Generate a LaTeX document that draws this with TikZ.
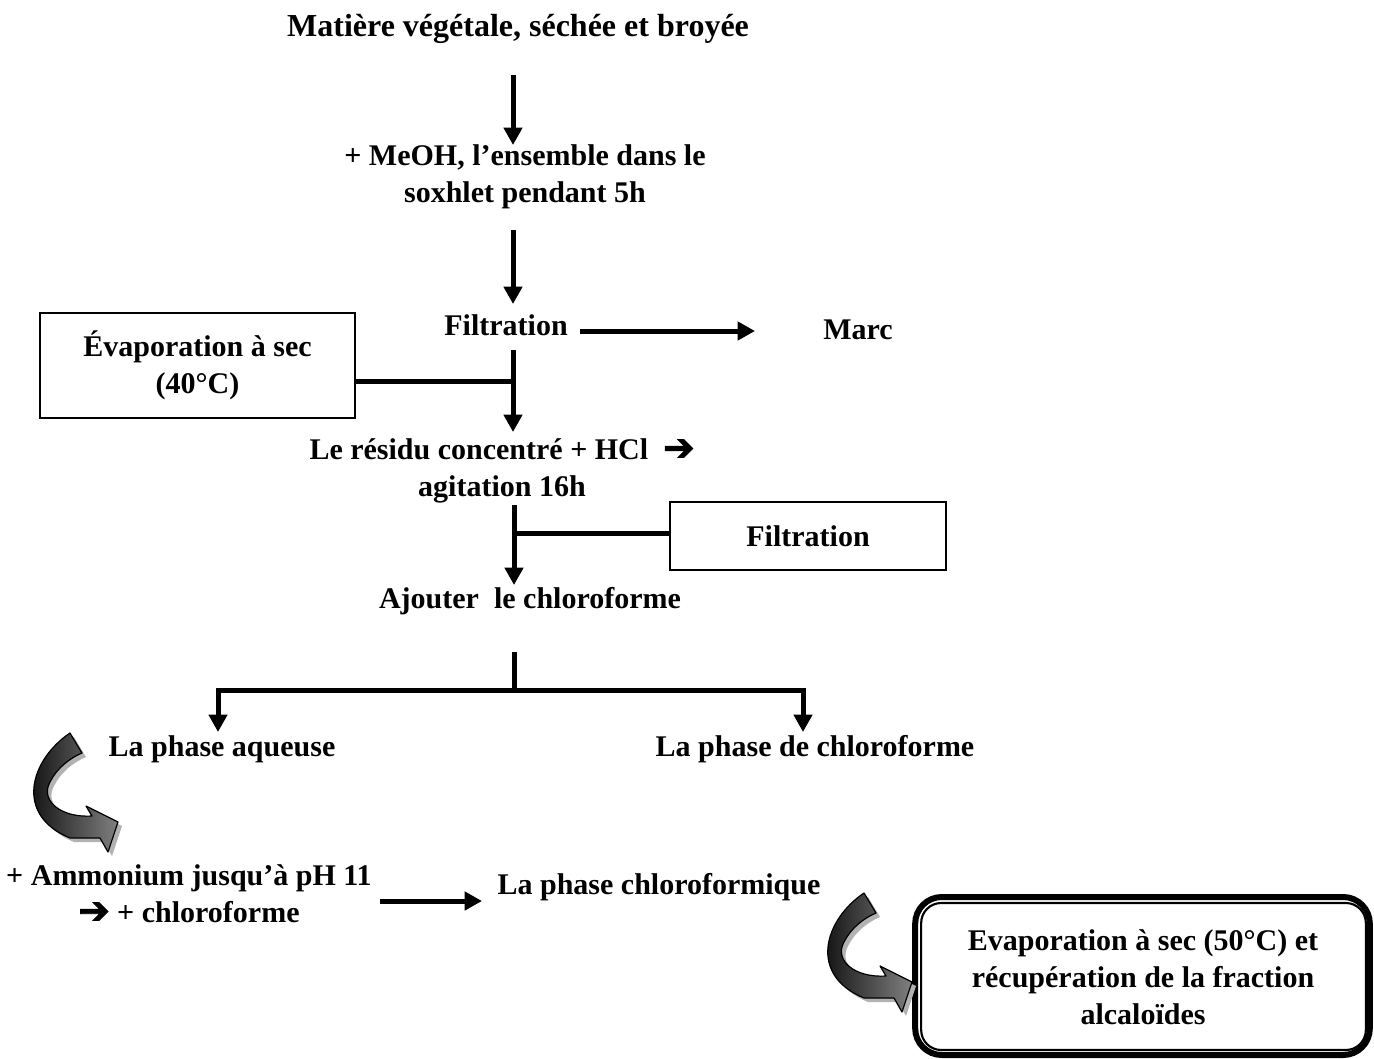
\documentclass[tikz,border=0pt]{standalone}
\usepackage{fontspec}
\setmainfont{Liberation Serif}
\newfontfamily\heavyarrow[FakeBold=2.5]{DejaVu Sans}
\usetikzlibrary{arrows.meta}
\tikzset{
  curvy/.pic={
    \fill[gray!60] (42,4) .. controls (2,31) and (-14,86) .. (42,109) -- (72,109) -- (80,123) -- (90,93) -- (58,77) -- (64,87) .. controls (32,89) and (12,71) .. (22,53) .. controls (29,39) and (42,29) .. (54,24) -- cycle;
    \shade[shading angle=60, left color=black, right color=black!50, draw=black, line width=0.9pt, line join=round]
      (38,0) .. controls (-2,27) and (-18,82) .. (38,105) -- (68,105) -- (76,119) -- (86,89) -- (54,73) -- (60,83) .. controls (28,85) and (8,67) .. (18,49) .. controls (25,35) and (38,25) .. (50,20) -- cycle;
  }
}
\newcommand{\harrow}{\raisebox{-0.5pt}{\heavyarrow\mdseries\fontsize{28}{28}\selectfont ➔}}
\begin{document}
\begin{tikzpicture}[x=0.75pt,y=-0.75pt,
  txt/.style={font=\fontsize{22.5}{27.75}\selectfont\bfseries, align=center, inner sep=0pt},
  bigtxt/.style={txt, font=\fontsize{24}{27.75}\selectfont\bfseries},
  thinbox/.style={draw, line width=1.1pt},
  conn/.style={line width=3.75pt},
  flow/.style={conn, -{Triangle[length=13pt,width=13.5pt]}}
]
\useasboundingbox (0,0) rectangle (1374,1059);
\fill[white] (0,0) rectangle (1374,1059);

% text nodes
\node[bigtxt] (title) at (518,29) {Matière végétale, séchée et broyée};
\node[txt] (meoh) at (525,177) {+ MeOH, l’ensemble dans le\\soxhlet pendant 5h};
\node[txt] (filt) at (506,325) {Filtration};
\node[txt] (marc) at (858,330) {Marc};
\node[thinbox, minimum width=236.25pt, minimum height=78.75pt] (evbox) at (197.5,365.5) {};
\node[txt] (ev1) at (evbox.center) {Évaporation à sec\\(40°C)};
\node[txt] (resid) at (502,471) {Le résidu concentré + HCl\ \ \harrow\\agitation 16h};
\node[thinbox, minimum width=207pt, minimum height=51pt] (fbox) at (808,536) {};
\node[txt] (filt2) at (fbox.center) {Filtration};
\node[txt] (chcl) at (530,601) {Ajouter\ \ le chloroforme};
\node[txt] (aq) at (222,749) {La phase aqueuse};
\node[txt] (pchl) at (815,749) {La phase de chloroforme};
\node[txt] (amm) at (189,894) {+ Ammonium jusqu’à pH 11\\\harrow{} + chloroforme};
\node[txt] (pchlf) at (659,887) {La phase chloroformique};

% final double box
\node[draw, line width=4.5pt, rounded corners=20pt, minimum width=341pt, minimum height=118.5pt] (fin) at (1142.5,976) {};
\draw[line width=1.6pt, rounded corners=15pt] ([shift={(9,9)}]fin.north west) rectangle ([shift={(-7,-8)}]fin.south east);
\node[txt] (fintxt) at (1143,977) {Evaporation à sec (50°C) et\\récupération de la fraction\\alcaloïdes};

% connector coordinates
\coordinate (a1s) at (513,75);
\coordinate (a1e) at (513,145);
\coordinate (a2s) at (513,230);
\coordinate (a2e) at (513,304);
\coordinate (m1) at (580,331);
\coordinate (m2) at (755,331);
\coordinate (v1s) at (513,350);
\coordinate (v1j) at (513,381);
\coordinate (v1e) at (513,432);
\coordinate (v2s) at (514,505);
\coordinate (v2j) at (514,533);
\coordinate (v2e) at (514,585);
\coordinate (sps) at (514,652);
\coordinate (spj) at (514,690);
\coordinate (spl) at (218,732);
\coordinate (spr) at (803,732);
\coordinate (h1s) at (380,901);
\coordinate (h1e) at (482,901);

\draw[flow] (a1s) -- (a1e);
\draw[flow] (a2s) -- (a2e);
\draw[flow] (m1) -- (m2);
\draw[flow] (v1s) -- (v1e);
\draw[conn] (evbox.east |- v1j) -- (v1j);
\draw[flow] (v2s) -- (v2e);
\draw[conn] (v2j) -- (fbox.west |- v2j);
\draw[conn] (sps) -- (spj);
\draw[flow] (spj) -| (spl);
\draw[flow] (spj) -| (spr);
\draw[flow] (h1s) -- (h1e);

% curved arrows
\pic at (32,733) {curvy};
\pic at (826,893) {curvy};
\end{tikzpicture}
\end{document}
